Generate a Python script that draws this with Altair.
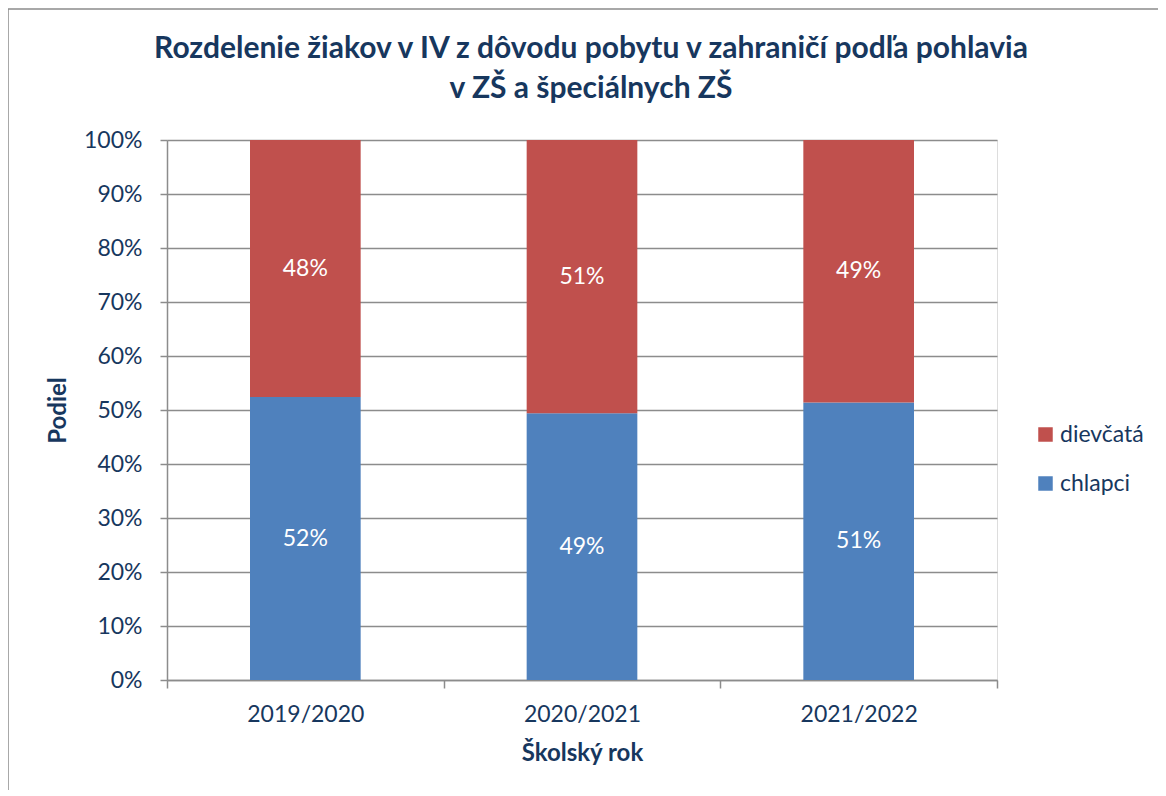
import altair as alt
import pandas as pd

years = ["2019/2020", "2020/2021", "2021/2022"]
chlapci = [52.4, 49.4, 51.4]
dievcata = [47.6, 50.6, 48.6]
series = ["dievčatá", "chlapci"]
series_colors = ["#C0504D", "#4F81BD"]
y_ticks = [0, 0.1, 0.2, 0.3, 0.4, 0.5, 0.6, 0.7, 0.8, 0.9, 1.0]
title_lines = [
    "Rozdelenie žiakov v IV z dôvodu pobytu v zahraničí podľa pohlavia",
    "v ZŠ a špeciálnych ZŠ",
]

rows = []
for i, yr in enumerate(years):
    rows.append({"rok": yr, "pohlavie": "chlapci", "hodnota": chlapci[i], "poradie": 0})
    rows.append({"rok": yr, "pohlavie": "dievčatá", "hodnota": dievcata[i], "poradie": 1})
df = pd.DataFrame(rows)

NAVY = "#17375E"
GRID = "#8C8C8C"
FONT = "Lato"

x_enc = alt.X(
    "rok:N",
    sort=years,
    scale=alt.Scale(paddingInner=0, paddingOuter=0),
    axis=alt.Axis(
        title="Školský rok",
        labelAngle=0,
        tickBand="extent",
        tickSize=8,
        tickColor=GRID,
        tickWidth=1.5,
        domainColor=GRID,
        domainWidth=1.5,
        labelPadding=15,
        labelFontSize=23,
        labelFont=FONT,
        labelColor=NAVY,
        titleFontSize=24,
        titleFont=FONT,
        titleFontWeight="bold",
        titleColor=NAVY,
        titlePadding=15,
        grid=False,
    ),
)

bars = alt.Chart(df).mark_bar(width=alt.RelativeBandSize(0.4)).encode(
    x=x_enc,
    y=alt.Y(
        "hodnota:Q",
        stack="normalize",
        scale=alt.Scale(domain=[0, 1]),
        axis=alt.Axis(
            title="Podiel",
            format=".0%",
            values=y_ticks,
            tickSize=7,
            tickColor=GRID,
            tickWidth=1.5,
            domainColor=GRID,
            domainWidth=1.5,
            gridColor=GRID,
            gridWidth=1.5,
            labelPadding=18,
            labelFontSize=23,
            labelFont=FONT,
            labelColor=NAVY,
            titleFontSize=24,
            titleFont=FONT,
            titleFontWeight="bold",
            titleColor=NAVY,
            titlePadding=13,
        ),
    ),
    color=alt.Color(
        "pohlavie:N",
        scale=alt.Scale(domain=series, range=series_colors),
        legend=alt.Legend(
            title=None,
            orient="none",
            legendX=867,
            legendY=283,
            symbolType="square",
            symbolSize=210,
            symbolStrokeWidth=0,
            labelFontSize=23,
            labelFont=FONT,
            labelColor=NAVY,
            labelOffset=3,
            rowPadding=25,
            padding=0,
        ),
    ),
    order=alt.Order("poradie:Q", sort="ascending"),
)

labels = (
    alt.Chart(df)
    .transform_joinaggregate(total="sum(hodnota)", groupby=["rok"])
    .transform_calculate(podiel="datum.hodnota / datum.total")
    .transform_window(
        cum="sum(podiel)", groupby=["rok"], sort=[alt.SortField("poradie")]
    )
    .transform_calculate(stred="datum.cum - datum.podiel / 2")
    .mark_text(color="white", fontSize=23, font=FONT)
    .encode(
        x=alt.X("rok:N", sort=years),
        y=alt.Y("stred:Q"),
        text=alt.Text("podiel:Q", format=".0%"),
    )
)

one_row = alt.Data(values=[{"a": 1}])

border = (
    alt.Chart(one_row)
    .mark_rect(fill=None, stroke="#8C8C8C", strokeWidth=1.5)
    .encode(
        x=alt.value(-159),
        x2=alt.value(1300),
        y=alt.value(-131),
        y2=alt.value(900),
    )
)

title_style = dict(font=FONT, fontSize=30, fontWeight="bold", color=NAVY,
                   align="center", baseline="alphabetic")
title1 = alt.Chart(one_row).mark_text(**title_style).encode(
    x=alt.value(424), y=alt.value(-82), text=alt.value(title_lines[0])
)
title2 = alt.Chart(one_row).mark_text(**title_style).encode(
    x=alt.value(424), y=alt.value(-42), text=alt.value(title_lines[1])
)

chart = (
    alt.layer(border, title1, title2, bars, labels)
    .properties(
        width=830,
        height=540,
        padding={"left": 159, "top": 132, "right": 161, "bottom": 110},
        autosize=alt.AutoSizeParams(type="none"),
    )
    .configure_view(stroke=None)
    .configure(background="white")
)

chart.save("out.html", embed_options={"renderer": "svg", "actions": False})
